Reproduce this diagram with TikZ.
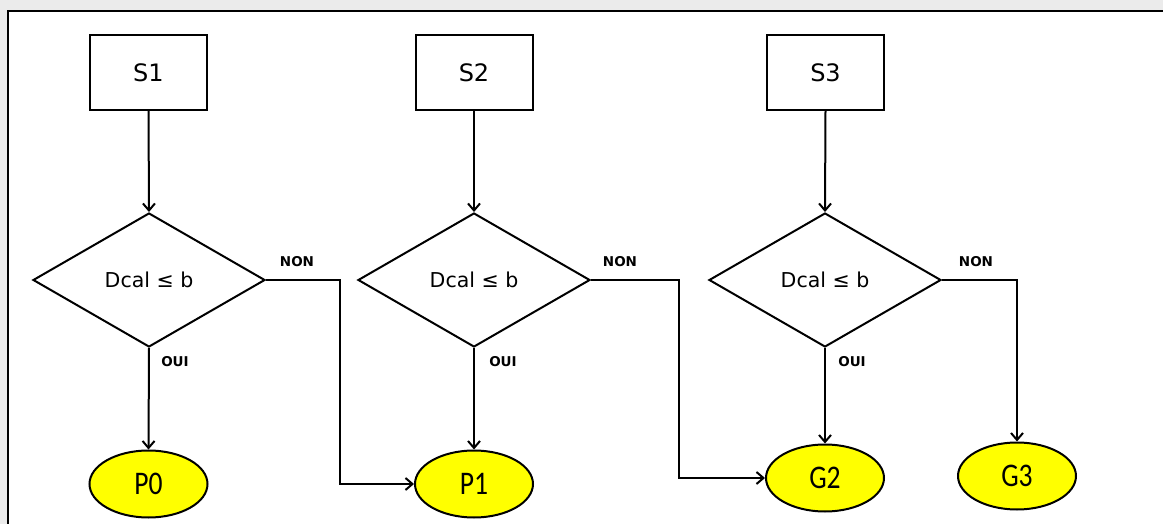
\documentclass[tikz,border=0pt]{standalone}
\usepackage{fontspec}
\setmainfont{DejaVu Sans}
\newfontfamily\calib{Carlito}
\usetikzlibrary{shapes.geometric,arrows.meta}
\definecolor{bggray}{HTML}{EBEBEB}
\definecolor{ellyellow}{HTML}{FFFF00}
\begin{document}
\begin{tikzpicture}[x=1pt,y=-1pt,
  stepbox/.style={draw,line width=2pt,minimum width=117pt,minimum height=75pt,inner sep=0pt,font=\fontsize{24}{28}\selectfont},
  testbox/.style={draw,diamond,line width=2pt,minimum width=232pt,minimum height=134pt,inner sep=0pt,font=\fontsize{20.5}{24}\selectfont},
  endbox/.style={draw,ellipse,fill=ellyellow,line width=2pt,minimum width=118pt,minimum height=67pt,inner sep=0pt,font=\calib\fontsize{30}{34}\selectfont},
  lbl/.style={font=\bfseries\fontsize{13.5}{15}\selectfont,inner sep=0pt},
  conn/.style={line width=2pt,-{Straight Barb[length=7pt,width=12pt,line width=2pt]}},
  seg/.style={line width=2pt}]
\useasboundingbox (0,0) rectangle (1163,524);
\fill[bggray] (0,0) rectangle (1163,524);
\fill[white] (8,11) rectangle (1163,524);
\draw[line width=2pt] (8,530) -- (8,11) -- (1170,11);

\node[stepbox] (s1) at (148.5,72.5) {S1};
\node[stepbox] (s2) at (474,72.5) {S2};
\node[stepbox] (s3) at (825.5,72.5) {S3};

\node[testbox] (d1) at (149,280) {Dcal ≤ b};
\node[testbox] (d2) at (474,280) {Dcal ≤ b};
\node[testbox] (d3) at (825,280) {Dcal ≤ b};

\node[endbox] (p0) at (148.5,484) {\scalebox{0.92}[1.1]{P0}};
\node[endbox] (p1) at (474,484) {\scalebox{0.92}[1.1]{P1}};
\node[endbox] (g2) at (825,478) {\scalebox{0.92}[1.1]{G2}};
\node[endbox] (g3) at (1017,476) {\scalebox{0.92}[1.1]{G3}};

\coordinate (c1a) at (340,280);
\coordinate (c1b) at (340,484);
\coordinate (c2a) at (679,280);
\coordinate (c2b) at (679,478);
\coordinate (c3a) at (1017,280);

\draw[conn] (s1.south) -- (d1.north);
\draw[conn] (s2.south) -- (d2.north);
\draw[conn] (s3.south) -- (d3.north);

\draw[conn] (d1.south) -- (p0.north);
\draw[conn] (d2.south) -- (p1.north);
\draw[conn] (d3.south) -- (g2.north);

\draw[conn] (d1.east) -- (c1a) -- (c1b) -- (p1.west);
\draw[conn] (d2.east) -- (c2a) -- (c2b) -- (g2.west);
\draw[conn] (d3.east) -- (c3a) -- (g3.north);

\node[lbl] (n1) at (297,262) {NON};
\node[lbl] (n2) at (620,262) {NON};
\node[lbl] (n3) at (976,262) {NON};
\node[lbl] (o1) at (175,362) {OUI};
\node[lbl] (o2) at (503,362) {OUI};
\node[lbl] (o3) at (852,362) {OUI};
\end{tikzpicture}
\end{document}
